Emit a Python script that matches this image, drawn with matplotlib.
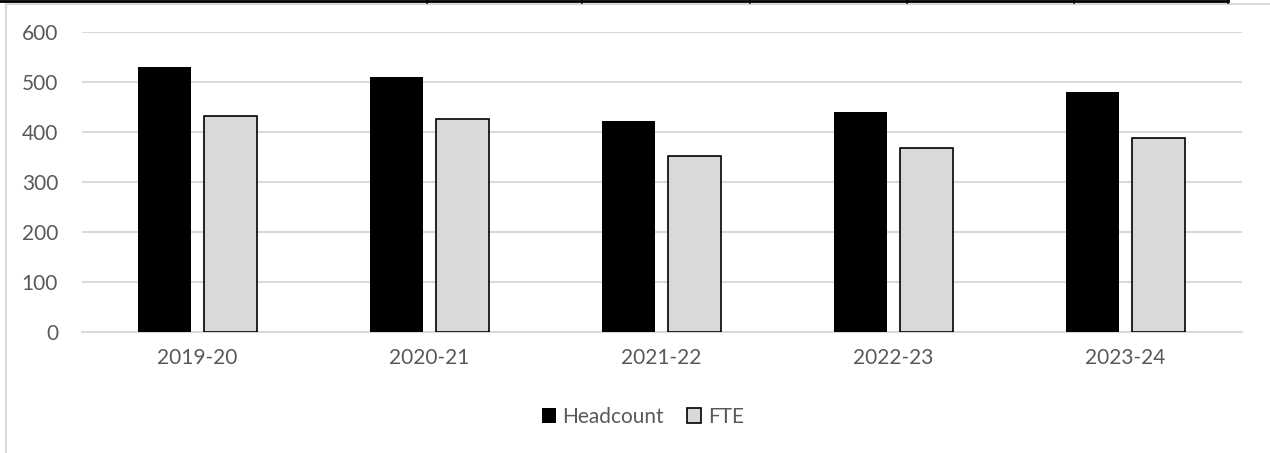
import matplotlib.pyplot as plt
import numpy as np
from matplotlib.lines import Line2D

years = ["2019-20", "2020-21", "2021-22", "2022-23", "2023-24"]
headcount = [529, 509, 421, 439, 479]
fte = [432, 426, 351, 367, 388]

plt.rcParams["font.family"] = ["Lato", "DejaVu Sans"]
text_grey = "#595959"
grid_grey = "#d9d9d9"

fig = plt.figure(figsize=(12.7, 4.53), dpi=100)
ax = fig.add_axes([0.0643, 0.2664, 0.9134, 0.6636])

x = np.arange(len(years))
w = 0.229
off = 0.142
ax.bar(x - off, headcount, w, color="black", label="Headcount", zorder=3)
ax.bar(x + off, fte, w, color=grid_grey, edgecolor="black", linewidth=1.2,
       label="FTE", zorder=3)

ax.set_xlim(-0.5, len(years) - 0.5)
ax.set_ylim(0, 600)
ax.set_yticks(range(0, 601, 100))
ax.set_xticks(x)
ax.set_xticklabels(years)
ax.yaxis.grid(True, color=grid_grey, linewidth=1.5, zorder=0)
ax.set_axisbelow(True)
for s in ["top", "right", "left"]:
    ax.spines[s].set_visible(False)
ax.spines["bottom"].set_color(grid_grey)
ax.spines["bottom"].set_linewidth(1.5)
ax.tick_params(axis="both", length=0, labelsize=15, labelcolor=text_grey)
ax.tick_params(axis="y", pad=17)
ax.tick_params(axis="x", pad=11)

leg = fig.legend(loc="center", bbox_to_anchor=(0.506, 0.08), ncol=2, frameon=False,
                 fontsize=15, handlelength=0.7, handleheight=0.7,
                 handletextpad=0.3, columnspacing=1.1)
for t in leg.get_texts():
    t.set_color(text_grey)

# chart border (left and top) and table edge above it
H = 453.0
W = 1270.0
fig.add_artist(Line2D([5.5 / W, 5.5 / W], [0, 1 - 3.5 / H], color=grid_grey,
                      linewidth=1.5, transform=fig.transFigure))
fig.add_artist(Line2D([5.5 / W, 1], [1 - 3.5 / H, 1 - 3.5 / H], color=grid_grey,
                      linewidth=1.5, transform=fig.transFigure))
fig.add_artist(Line2D([0, 1228 / W], [1 - 1.2 / H, 1 - 1.2 / H], color="black",
                      linewidth=2, transform=fig.transFigure))
for px in [426.5, 581.6, 750, 906.7, 1074, 1228]:
    fig.add_artist(Line2D([px / W, px / W], [1, 1 - 3 / H], color="black",
                          linewidth=1.2, transform=fig.transFigure))

fig.savefig("out.png", dpi=100)
